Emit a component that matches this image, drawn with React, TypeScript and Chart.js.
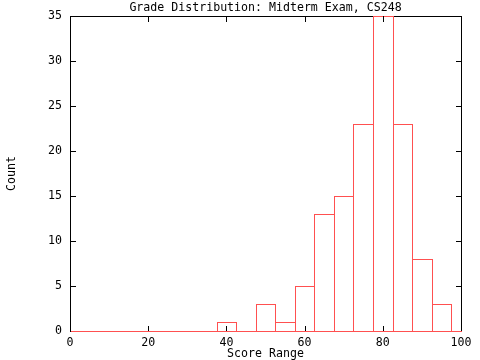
import React, { useEffect, useRef } from 'react';
import { Chart, registerables } from 'chart.js';

Chart.register(...registerables);

const binCenters = [40, 45, 50, 55, 60, 65, 70, 75, 80, 85, 90, 95];
const counts = [1, 0, 3, 1, 5, 13, 15, 23, 35, 23, 8, 3];
const xTicks = [0, 20, 40, 60, 80, 100];
const yTicks = [0, 5, 10, 15, 20, 25, 30, 35];
const chartTitle = 'Grade Distribution: Midterm Exam, CS248';
const xTitle = 'Score Range';
const yTitle = 'Count';

const FAMILY = "'DejaVu Sans Mono', 'Liberation Mono', monospace";
const RED = '#ff5050';
const font = { family: FAMILY, size: 11.6, weight: 'normal' as const, lineHeight: 1.1 };

export default function App() {
  const ref = useRef<HTMLCanvasElement>(null);

  useEffect(() => {
    document.body.style.margin = '0';
    const canvas = ref.current;
    if (!canvas) return;

    const gnuTicks = {
      id: 'gnuTicks',
      beforeDatasetsDraw(chart: any) {
        // snap bar outlines to whole pixels so shared edges are crisp 1px lines
        const meta = chart.getDatasetMeta(0);
        for (const el of meta.data as any[]) {
          const leftEdge = el.x - el.width / 2 + 0.5;
          const rightEdge = el.x + el.width / 2 - 0.5;
          const l = Math.round(leftEdge);
          const r = Math.round(rightEdge) + 1;
          el.x = (l + r) / 2;
          el.width = r - l;
        }
        const { ctx, chartArea: a } = chart;
        ctx.save();
        ctx.strokeStyle = '#000';
        ctx.lineWidth = 1;
        ctx.beginPath();
        ctx.moveTo(a.left, a.top + 0.5);
        ctx.lineTo(a.right + 1, a.top + 0.5);
        ctx.moveTo(a.right + 0.5, a.top);
        ctx.lineTo(a.right + 0.5, a.bottom);
        ctx.stroke();
        ctx.restore();
      },
      afterDatasetsDraw(chart: any) {
        const { ctx, chartArea: a, scales } = chart;
        ctx.save();
        ctx.strokeStyle = '#000';
        ctx.lineWidth = 1;
        ctx.beginPath();
        for (const v of yTicks) {
          if (v === yTicks[0] || v === yTicks[yTicks.length - 1]) continue;
          const y = Math.round(scales.y.getPixelForValue(v)) + 0.5;
          ctx.moveTo(a.left, y);
          ctx.lineTo(a.left + 6, y);
          ctx.moveTo(a.right + 1, y);
          ctx.lineTo(a.right - 5, y);
        }
        for (const v of xTicks) {
          if (v === xTicks[0] || v === xTicks[xTicks.length - 1]) continue;
          const x = Math.round(scales.x.getPixelForValue(v)) + 0.5;
          ctx.moveTo(x, a.bottom);
          ctx.lineTo(x, a.bottom - 5);
          ctx.moveTo(x, a.top);
          ctx.lineTo(x, a.top + 6);
        }
        ctx.stroke();
        ctx.restore();
      },
    };

    const chart = new Chart(canvas, {
      type: 'bar',
      data: {
        datasets: [
          {
            data: binCenters.map((x, i) => ({ x, y: counts[i] })),
            backgroundColor: 'rgba(0,0,0,0)',
            borderColor: RED,
            borderWidth: 1,
            borderSkipped: 'bottom',
            inflateAmount: 0,
            categoryPercentage: 1,
            barPercentage: 1.0512,
          } as any,
        ],
      },
      options: {
        animation: false,
        responsive: false,
        events: [],
        layout: { padding: { top: 0, right: 19, bottom: 0, left: 0 } },
        plugins: {
          legend: { display: false },
          tooltip: { enabled: false },
          title: {
            display: true,
            text: chartTitle,
            fullSize: false,
            color: '#000',
            font: { ...font, lineHeight: 1.2 },
            padding: { top: 1, bottom: 1.08 },
          },
        },
        scales: {
          x: {
            type: 'linear',
            min: 0,
            max: 100,
            offset: false,
            ticks: { stepSize: 20, color: '#000', font, padding: 6, maxRotation: 0, autoSkip: false },
            grid: { display: false, drawTicks: false },
            border: { display: true, color: RED, width: 1 },
            title: { display: true, text: xTitle, color: '#000', font, padding: 0 },
            afterFit(s: any) {
              s.height = 29;
            },
          },
          y: {
            min: 0,
            max: 35,
            ticks: { stepSize: 5, color: '#000', font, padding: 8 },
            grid: { display: false, drawTicks: false },
            border: { display: true, color: '#000', width: 1 },
            title: { display: true, text: yTitle, color: '#000', font, padding: { top: 6, bottom: 0 } },
            afterFit(s: any) {
              s.width = 70;
            },
          },
        },
      },
      plugins: [gnuTicks],
    } as any);

    return () => chart.destroy();
  }, []);

  return <canvas ref={ref} width={480} height={360} style={{ display: 'block' }} />;
}
